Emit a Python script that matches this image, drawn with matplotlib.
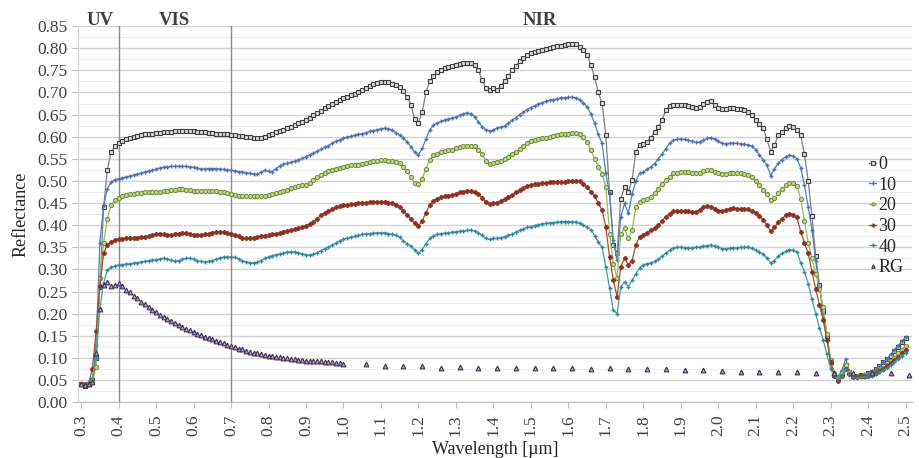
import numpy as np
import matplotlib
matplotlib.use("Agg")
import matplotlib.pyplot as plt

plt.rcParams['font.family'] = ['Liberation Serif', 'DejaVu Serif']

# wavelength grid of the spectra (µm), 0.30 .. 2.50
wavelength = np.round(np.arange(0.30, 2.505, 0.01), 2)

refl_0 = [
    0.040, 0.037, 0.040, 0.050, 0.100, 0.260, 0.440, 0.525, 0.565, 0.578,
    0.585, 0.590, 0.594, 0.597, 0.600, 0.602, 0.604, 0.605, 0.606, 0.607,
    0.608, 0.609, 0.610, 0.611, 0.611, 0.612, 0.612, 0.612, 0.612, 0.612,
    0.612, 0.611, 0.611, 0.610, 0.609, 0.608, 0.607, 0.606, 0.605, 0.605,
    0.604, 0.603, 0.602, 0.601, 0.600, 0.599, 0.598, 0.597, 0.597, 0.599,
    0.603, 0.605, 0.611, 0.613, 0.616, 0.620, 0.623, 0.626, 0.630, 0.633,
    0.637, 0.642, 0.648, 0.654, 0.659, 0.665, 0.670, 0.675, 0.679, 0.683,
    0.687, 0.690, 0.694, 0.697, 0.700, 0.705, 0.710, 0.714, 0.718, 0.721,
    0.723, 0.724, 0.723, 0.720, 0.716, 0.712, 0.703, 0.690, 0.672, 0.640,
    0.632, 0.655, 0.700, 0.725, 0.737, 0.746, 0.751, 0.755, 0.758, 0.760,
    0.762, 0.764, 0.766, 0.767, 0.767, 0.762, 0.750, 0.728, 0.710, 0.705,
    0.710, 0.706, 0.714, 0.726, 0.737, 0.750, 0.760, 0.770, 0.778, 0.785,
    0.789, 0.792, 0.794, 0.796, 0.798, 0.800, 0.802, 0.804, 0.806, 0.808,
    0.809, 0.810, 0.810, 0.803, 0.795, 0.785, 0.762, 0.735, 0.700, 0.676,
    0.604, 0.475, 0.355, 0.336, 0.460, 0.487, 0.475, 0.502, 0.566, 0.581,
    0.583, 0.588, 0.598, 0.610, 0.622, 0.637, 0.660, 0.670, 0.672, 0.672,
    0.672, 0.671, 0.670, 0.668, 0.666, 0.668, 0.674, 0.679, 0.680, 0.672,
    0.664, 0.662, 0.663, 0.664, 0.664, 0.663, 0.662, 0.660, 0.656, 0.648,
    0.638, 0.628, 0.619, 0.594, 0.566, 0.581, 0.603, 0.610, 0.620, 0.624,
    0.621, 0.615, 0.604, 0.560, 0.500, 0.420, 0.330, 0.265, 0.205, 0.150,
    0.090, 0.062, 0.055, 0.065, 0.085, 0.068, 0.060, 0.060, 0.061, 0.060,
    0.066, 0.068, 0.074, 0.082, 0.090, 0.097, 0.105, 0.115, 0.125, 0.135,
    0.145,
]

refl_10 = [
    0.040, 0.038, 0.042, 0.045, 0.130, 0.360, 0.445, 0.482, 0.497, 0.503,
    0.505, 0.507, 0.509, 0.511, 0.513, 0.515, 0.518, 0.520, 0.522, 0.524,
    0.527, 0.529, 0.531, 0.532, 0.533, 0.533, 0.533, 0.533, 0.533, 0.532,
    0.531, 0.529, 0.527, 0.527, 0.528, 0.528, 0.528, 0.527, 0.526, 0.525,
    0.524, 0.523, 0.521, 0.520, 0.519, 0.517, 0.516, 0.515, 0.520, 0.524,
    0.522, 0.521, 0.528, 0.534, 0.538, 0.540, 0.542, 0.545, 0.548, 0.551,
    0.555, 0.559, 0.563, 0.567, 0.572, 0.576, 0.580, 0.585, 0.590, 0.593,
    0.596, 0.599, 0.601, 0.603, 0.605, 0.607, 0.609, 0.612, 0.614, 0.616,
    0.618, 0.619, 0.618, 0.615, 0.609, 0.604, 0.597, 0.588, 0.577, 0.565,
    0.558, 0.574, 0.594, 0.615, 0.626, 0.631, 0.635, 0.638, 0.640, 0.642,
    0.645, 0.648, 0.652, 0.654, 0.652, 0.645, 0.634, 0.622, 0.616, 0.613,
    0.615, 0.620, 0.622, 0.624, 0.630, 0.637, 0.643, 0.650, 0.656, 0.661,
    0.666, 0.670, 0.674, 0.677, 0.680, 0.682, 0.684, 0.686, 0.688, 0.688,
    0.689, 0.689, 0.688, 0.684, 0.676, 0.668, 0.652, 0.630, 0.605, 0.585,
    0.517, 0.472, 0.366, 0.321, 0.419, 0.449, 0.427, 0.470, 0.500, 0.517,
    0.520, 0.526, 0.532, 0.539, 0.550, 0.560, 0.573, 0.585, 0.592, 0.594,
    0.595, 0.594, 0.592, 0.590, 0.587, 0.588, 0.592, 0.596, 0.598, 0.595,
    0.590, 0.585, 0.584, 0.585, 0.585, 0.585, 0.584, 0.583, 0.582, 0.578,
    0.570, 0.558, 0.548, 0.535, 0.512, 0.528, 0.540, 0.548, 0.555, 0.558,
    0.556, 0.550, 0.530, 0.490, 0.441, 0.390, 0.320, 0.260, 0.200, 0.145,
    0.095, 0.065, 0.058, 0.072, 0.098, 0.070, 0.062, 0.060, 0.062, 0.064,
    0.066, 0.070, 0.075, 0.082, 0.090, 0.098, 0.108, 0.118, 0.128, 0.138,
    0.148,
]

refl_20 = [
    0.040, 0.038, 0.041, 0.045, 0.080, 0.280, 0.360, 0.415, 0.445, 0.457,
    0.462, 0.465, 0.468, 0.470, 0.471, 0.472, 0.473, 0.474, 0.474, 0.475,
    0.475, 0.476, 0.477, 0.478, 0.479, 0.480, 0.481, 0.481, 0.480, 0.479,
    0.478, 0.477, 0.477, 0.477, 0.478, 0.478, 0.477, 0.476, 0.474, 0.472,
    0.470, 0.468, 0.467, 0.466, 0.466, 0.465, 0.465, 0.466, 0.466, 0.467,
    0.469, 0.471, 0.473, 0.475, 0.477, 0.480, 0.483, 0.486, 0.488, 0.490,
    0.491, 0.495, 0.502, 0.508, 0.514, 0.518, 0.522, 0.525, 0.528, 0.530,
    0.532, 0.534, 0.535, 0.536, 0.537, 0.539, 0.541, 0.543, 0.545, 0.546,
    0.547, 0.547, 0.546, 0.545, 0.543, 0.540, 0.532, 0.522, 0.508, 0.495,
    0.492, 0.505, 0.528, 0.548, 0.558, 0.562, 0.565, 0.567, 0.569, 0.571,
    0.574, 0.576, 0.578, 0.579, 0.579, 0.578, 0.570, 0.560, 0.546, 0.539,
    0.541, 0.543, 0.546, 0.550, 0.555, 0.561, 0.566, 0.572, 0.579, 0.585,
    0.590, 0.593, 0.595, 0.596, 0.597, 0.599, 0.602, 0.604, 0.606, 0.607,
    0.607, 0.608, 0.608, 0.606, 0.600, 0.588, 0.570, 0.550, 0.532, 0.516,
    0.487, 0.381, 0.313, 0.280, 0.381, 0.393, 0.370, 0.389, 0.440, 0.453,
    0.458, 0.460, 0.464, 0.472, 0.482, 0.494, 0.502, 0.510, 0.517, 0.519,
    0.521, 0.521, 0.520, 0.518, 0.517, 0.519, 0.522, 0.524, 0.524, 0.521,
    0.517, 0.515, 0.515, 0.517, 0.518, 0.518, 0.517, 0.516, 0.514, 0.508,
    0.500, 0.490, 0.480, 0.470, 0.457, 0.462, 0.472, 0.482, 0.490, 0.496,
    0.495, 0.488, 0.460, 0.410, 0.360, 0.325, 0.290, 0.255, 0.215, 0.155,
    0.095, 0.065, 0.055, 0.065, 0.085, 0.068, 0.060, 0.058, 0.060, 0.061,
    0.062, 0.064, 0.067, 0.072, 0.078, 0.085, 0.092, 0.100, 0.110, 0.118,
    0.128,
]

refl_30 = [
    0.042, 0.040, 0.043, 0.075, 0.160, 0.262, 0.336, 0.356, 0.362, 0.366,
    0.368, 0.369, 0.370, 0.371, 0.372, 0.372, 0.373, 0.374, 0.375, 0.377,
    0.380, 0.381, 0.380, 0.378, 0.377, 0.379, 0.381, 0.383, 0.382, 0.380,
    0.378, 0.377, 0.377, 0.379, 0.381, 0.383, 0.385, 0.385, 0.384, 0.382,
    0.381, 0.378, 0.375, 0.372, 0.370, 0.370, 0.371, 0.373, 0.375, 0.376,
    0.377, 0.379, 0.381, 0.383, 0.385, 0.387, 0.389, 0.391, 0.393, 0.395,
    0.398, 0.402, 0.408, 0.415, 0.422, 0.427, 0.432, 0.436, 0.440, 0.443,
    0.445, 0.446, 0.447, 0.448, 0.449, 0.450, 0.451, 0.452, 0.453, 0.453,
    0.453, 0.452, 0.450, 0.449, 0.446, 0.441, 0.432, 0.424, 0.414, 0.404,
    0.398, 0.410, 0.428, 0.446, 0.455, 0.460, 0.463, 0.465, 0.467, 0.468,
    0.471, 0.474, 0.476, 0.477, 0.477, 0.475, 0.470, 0.462, 0.452, 0.447,
    0.449, 0.451, 0.455, 0.459, 0.463, 0.468, 0.474, 0.479, 0.484, 0.488,
    0.491, 0.493, 0.494, 0.495, 0.496, 0.497, 0.497, 0.498, 0.498, 0.498,
    0.499, 0.500, 0.500, 0.499, 0.494, 0.486, 0.476, 0.465, 0.450, 0.434,
    0.396, 0.328, 0.276, 0.238, 0.306, 0.325, 0.310, 0.320, 0.355, 0.374,
    0.378, 0.383, 0.388, 0.393, 0.400, 0.410, 0.419, 0.426, 0.431, 0.432,
    0.432, 0.432, 0.431, 0.430, 0.430, 0.434, 0.440, 0.443, 0.442, 0.437,
    0.433, 0.432, 0.434, 0.437, 0.438, 0.437, 0.436, 0.436, 0.436, 0.432,
    0.428, 0.420, 0.412, 0.400, 0.386, 0.395, 0.407, 0.415, 0.422, 0.426,
    0.424, 0.418, 0.385, 0.360, 0.336, 0.295, 0.255, 0.220, 0.185, 0.140,
    0.090, 0.058, 0.048, 0.058, 0.075, 0.063, 0.057, 0.056, 0.058, 0.058,
    0.060, 0.062, 0.065, 0.070, 0.075, 0.081, 0.088, 0.095, 0.103, 0.110,
    0.118,
]

refl_40 = [
    0.042, 0.040, 0.043, 0.055, 0.100, 0.210, 0.270, 0.298, 0.305, 0.308,
    0.310, 0.311, 0.312, 0.313, 0.314, 0.315, 0.317, 0.318, 0.320, 0.321,
    0.322, 0.324, 0.325, 0.324, 0.321, 0.319, 0.320, 0.323, 0.325, 0.325,
    0.323, 0.320, 0.318, 0.317, 0.318, 0.320, 0.323, 0.326, 0.328, 0.328,
    0.328, 0.327, 0.324, 0.320, 0.317, 0.315, 0.315, 0.316, 0.320, 0.325,
    0.328, 0.331, 0.333, 0.335, 0.337, 0.339, 0.340, 0.340, 0.338, 0.335,
    0.333, 0.332, 0.334, 0.338, 0.342, 0.347, 0.350, 0.355, 0.360, 0.365,
    0.368, 0.371, 0.373, 0.375, 0.377, 0.379, 0.380, 0.381, 0.382, 0.383,
    0.383, 0.383, 0.381, 0.379, 0.377, 0.373, 0.364, 0.358, 0.352, 0.344,
    0.336, 0.345, 0.358, 0.370, 0.376, 0.379, 0.381, 0.382, 0.383, 0.384,
    0.385, 0.386, 0.387, 0.388, 0.389, 0.387, 0.383, 0.377, 0.370, 0.368,
    0.370, 0.370, 0.372, 0.374, 0.377, 0.380, 0.384, 0.388, 0.392, 0.395,
    0.397, 0.399, 0.401, 0.403, 0.404, 0.405, 0.406, 0.407, 0.408, 0.408,
    0.408, 0.408, 0.407, 0.404, 0.400, 0.395, 0.390, 0.376, 0.362, 0.350,
    0.306, 0.258, 0.208, 0.200, 0.261, 0.272, 0.261, 0.275, 0.290, 0.303,
    0.310, 0.313, 0.315, 0.318, 0.323, 0.330, 0.337, 0.343, 0.349, 0.350,
    0.350, 0.349, 0.349, 0.349, 0.350, 0.351, 0.352, 0.354, 0.355, 0.353,
    0.350, 0.347, 0.347, 0.348, 0.349, 0.349, 0.350, 0.350, 0.351, 0.348,
    0.344, 0.339, 0.334, 0.326, 0.315, 0.320, 0.330, 0.336, 0.341, 0.345,
    0.343, 0.340, 0.315, 0.295, 0.268, 0.232, 0.200, 0.168, 0.140, 0.108,
    0.075, 0.058, 0.052, 0.060, 0.075, 0.062, 0.057, 0.055, 0.056, 0.056,
    0.058, 0.060, 0.063, 0.067, 0.072, 0.077, 0.083, 0.090, 0.097, 0.104,
    0.110,
]

# RG: dense below 1.0 µm, sparse above
rg_wavelength = list(np.round(np.arange(0.30, 1.005, 0.01), 2)) + [
    1.06, 1.11, 1.16, 1.21, 1.26, 1.31, 1.36, 1.41, 1.46, 1.51,
    1.56, 1.61, 1.66, 1.71, 1.76, 1.81, 1.86, 1.91, 1.96, 2.01,
    2.06, 2.11, 2.16, 2.21, 2.26, 2.31, 2.36, 2.41, 2.46, 2.51,
]
refl_rg = [
    0.040, 0.038, 0.042, 0.045, 0.110, 0.210, 0.265, 0.272, 0.262, 0.265,
    0.270, 0.262, 0.254, 0.248, 0.241, 0.235, 0.226, 0.221, 0.215, 0.209,
    0.203, 0.198, 0.193, 0.188, 0.183, 0.179, 0.174, 0.170, 0.166, 0.162,
    0.158, 0.155, 0.151, 0.148, 0.145, 0.142, 0.139, 0.136, 0.133, 0.130,
    0.127, 0.124, 0.121, 0.119, 0.116, 0.114, 0.112, 0.110, 0.108, 0.106,
    0.105, 0.104, 0.102, 0.101, 0.100, 0.099, 0.098, 0.097, 0.096, 0.095,
    0.094, 0.094, 0.093, 0.092, 0.092, 0.091, 0.091, 0.090, 0.089, 0.088,
    0.087,
    0.087, 0.081, 0.081, 0.081, 0.078, 0.079, 0.077, 0.077, 0.077, 0.077,
    0.077, 0.077, 0.076, 0.077, 0.074, 0.076, 0.076, 0.072, 0.072, 0.070,
    0.069, 0.069, 0.069, 0.069, 0.066, 0.066, 0.066, 0.065, 0.065, 0.061,
]

regions = ["UV", "VIS", "NIR"]
region_x = [0.35, 0.55, 1.525]
region_bounds = [0.4, 0.7]

fig = plt.figure(figsize=(9.19, 4.58), dpi=100)
ax = fig.add_axes([0.085, 0.122, 0.907, 0.821])

ax.plot(wavelength, refl_0, color="#7f7f7f", lw=0.9, marker="s", ms=3.2,
        mfc="#d9d9d9", mec="#404040", mew=0.8, label="0")
ax.plot(wavelength, refl_10, color="#4f81bd", lw=0.9, marker="+", ms=3.2,
        mec="#4f6fb0", mew=1.0, label="10")
ax.plot(wavelength, refl_20, color="#9bbb59", lw=0.9, marker="o", ms=3.0,
        mfc="#c3d69b", mec="#77933c", mew=0.8, label="20")
ax.plot(wavelength, refl_30, color="#a0522d", lw=0.9, marker="P", ms=3.2,
        mfc="#8c2f1f", mec="#8c2f1f", mew=0.5, label="30")
ax.plot(wavelength, refl_40, color="#4b9aa8", lw=0.9, marker="+", ms=3.2,
        mec="#31859c", mew=1.0, label="40")
ax.plot(rg_wavelength, refl_rg, ls="none", marker="^", ms=3.4,
        mfc="#b3a2c7", mec="#3f3151", mew=0.8, label="RG")

for xb in region_bounds:
    ax.axvline(xb, color="#8c8c8c", lw=1.0, zorder=1)
for name, xr in zip(regions, region_x):
    ax.text(xr, 0.853, name, ha="center", va="baseline", fontsize=13.5,
            fontweight="bold", color="#404040", clip_on=False)

ax.set_xlim(0.292, 2.516)
ax.set_ylim(0, 0.85)
xt = np.round(np.arange(0.3, 2.51, 0.1), 1)
ax.set_xticks(xt)
ax.set_xticklabels([f"{v:.1f}" for v in xt], rotation=90)
yt = np.round(np.arange(0, 0.851, 0.05), 2)
ax.set_yticks(yt)
ax.set_yticklabels([f"{v:.2f}" for v in yt])
ax.set_yticks(np.round(np.arange(0.025, 0.85, 0.05), 3), minor=True)
ax.tick_params(axis="both", which="major", labelsize=12.5, colors="#404040",
               color="#bfbfbf", length=4)
ax.tick_params(axis="x", which="major", pad=5)
ax.tick_params(axis="y", which="minor", length=0)
ax.grid(True, axis="y", which="major", color="#d4d4d4", lw=1.0)
ax.grid(True, axis="y", which="minor", color="#eeeeee", lw=0.8)
ax.set_axisbelow(True)
for side in ["top", "right"]:
    ax.spines[side].set_visible(False)
ax.spines["left"].set_color("#d4d4d4")
ax.spines["bottom"].set_color("#bfbfbf")

ax.set_xlabel("Wavelength [µm]", fontsize=13, color="#262626", labelpad=3)
ax.set_ylabel("Reflectance", fontsize=13, color="#262626", labelpad=6)

leg = ax.legend(loc="upper left", bbox_to_anchor=(0.938, 0.675),
                bbox_transform=fig.transFigure, frameon=False, fontsize=13,
                handlelength=0.4, handletextpad=0.1, labelspacing=0.2,
                borderaxespad=0, numpoints=1, markerscale=0.75)
for t in leg.get_texts():
    t.set_color("#262626")

fig.savefig("out.png", dpi=100)
